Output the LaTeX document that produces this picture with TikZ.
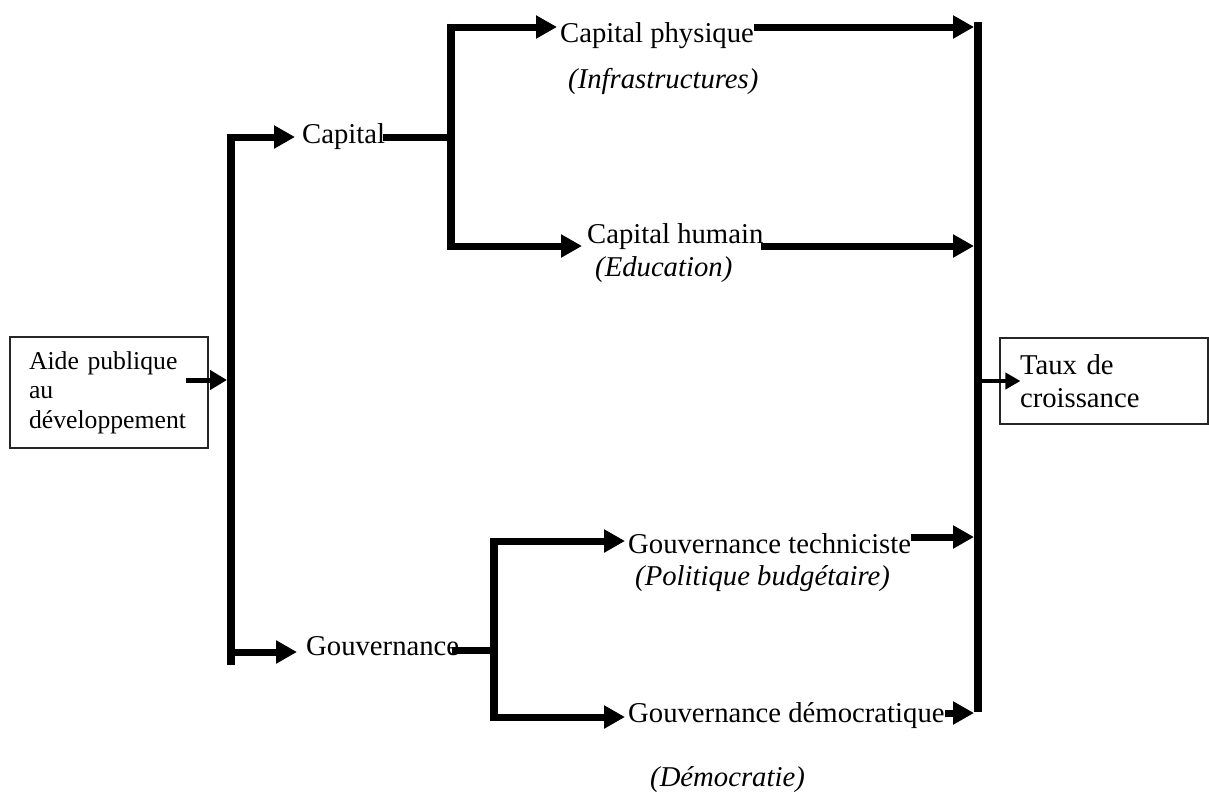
\documentclass[tikz,border=0pt]{standalone}
\usepackage{fontspec}
\setmainfont{Liberation Serif}
\usetikzlibrary{arrows.meta,calc}
\begin{document}
\begin{tikzpicture}[x=1pt,y=-1pt,
  lbl/.style={inner sep=0pt, anchor=base west, font=\fontsize{28.7}{33.5}\selectfont},
  sub/.style={inner sep=0pt, anchor=base west, font=\fontsize{28.7}{33.5}\selectfont\itshape},
  framebox/.style={draw=black!85, line width=1.1pt, inner sep=0pt, align=left},
  big/.style={line width=7pt, -{Triangle[length=21pt,width=22pt]}},
  small/.style={line width=4.5pt, -{Triangle[length=15pt,width=16pt]}},
  mid/.style={line width=5pt, -{Triangle[length=17pt,width=19pt]}},
  bar/.style={line width=8pt},
  link/.style={line width=7pt}]
\useasboundingbox (0,0) rectangle (1209,793);

% boxes
\node[framebox, minimum width=198pt, minimum height=111pt, text width=160pt,
      font=\fontsize{25.7}{29.5}\selectfont] (aide) at (109,392.5) {Aide publique\\au\\développement};
\node[framebox, minimum width=208pt, minimum height=86pt, text width=168pt,
      font=\fontsize{28.7}{33.5}\selectfont] (taux) at (1104,381) {Taux de\\croissance};

% labels
\node[lbl] (capital) at (302,143) {Capital};
\node[lbl] (cphys) at (560,42) {Capital physique};
\node[sub] (infra) at (568,88) {(Infrastructures)};
\node[lbl] (chum) at (587,243) {Capital humain};
\node[sub] (educ) at (595,276) {(Education)};
\node[lbl] (gouv) at (306,655) {Gouvernance};
\node[lbl] (gtech) at (628,553) {Gouvernance techniciste};
\node[sub] (polit) at (635,585) {(Politique budgétaire)};
\node[lbl] (gdem) at (628,722) {Gouvernance démocratique};
\node[sub] (democ) at (650,786) {(Démocratie)};

% bars
\coordinate (Ltop) at (231,133.5);
\coordinate (Lbot) at (231,665);
\coordinate (Ctop) at (451,23.5);
\coordinate (Cbot) at (451,249.5);
\coordinate (Gtop) at (494,537.5);
\coordinate (Gbot) at (494,720.5);
\coordinate (Rtop) at (978,22);
\coordinate (Rbot) at (978,712);
\draw[bar] (Ltop) -- (Lbot);
\draw[bar] (Ctop) -- (Cbot);
\draw[bar] (Gtop) -- (Gbot);
\draw[bar] (Rtop) -- (Rbot);

% arrow tips into labels
\coordinate (capIn) at ($(capital.base west)+(-7,-6)$);
\coordinate (cphIn) at ($(cphys.base west)+(-3,-15)$);
\coordinate (chuIn) at ($(chum.base west)+(-5,3)$);
\coordinate (gouIn) at ($(gouv.base west)+(-9,-3)$);
\coordinate (gteIn) at ($(gtech.base west)+(-3,-12)$);
\coordinate (gdeIn) at ($(gdem.base west)+(-3,-5)$);
% starts out of labels
\coordinate (capOut) at ($(capital.base east)+(-2,-6)$);
\coordinate (cphOut) at ($(cphys.base east)+(0,-15)$);
\coordinate (chuOut) at ($(chum.base east)+(-3,3)$);
\coordinate (gouOut) at ($(gouv.base east)+(-7,-5)$);
\coordinate (gteOut) at ($(gtech.base east)+(0,-16)$);
\coordinate (gdeOut) at ($(gdem.base east)+(0,-9)$);
\coordinate (aout) at ($(aide.east)+(-23,-12.5)$);

% connectors
\draw[mid] (aout) -- ($(Ltop |- aout)+(-4,0)$);
\draw[big] (Ltop |- capIn) -- (capIn);
\draw[big] (Ltop |- gouIn) -- (gouIn);
\draw[link] (capOut) -- (Ctop |- capOut);
\draw[big] (Ctop |- cphIn) -- (cphIn);
\draw[big] (Ctop |- chuIn) -- (chuIn);
\draw[link] (gouOut) -- (Gtop |- gouOut);
\draw[big] (Gtop |- gteIn) -- (gteIn);
\draw[big] (Gtop |- gdeIn) -- (gdeIn);
\draw[big] (cphOut) -- ($(Rtop |- cphOut)+(-4,0)$);
\draw[big] (chuOut) -- ($(Rtop |- chuOut)+(-4,0)$);
\draw[big] (gteOut) -- ($(Rtop |- gteOut)+(-4,0)$);
\draw[big] (gdeOut) -- ($(Rtop |- gdeOut)+(-4,0)$);
\draw[small] (Rtop |- taux.west) -- ($(taux.west)+(21,0)$);
\end{tikzpicture}
\end{document}
